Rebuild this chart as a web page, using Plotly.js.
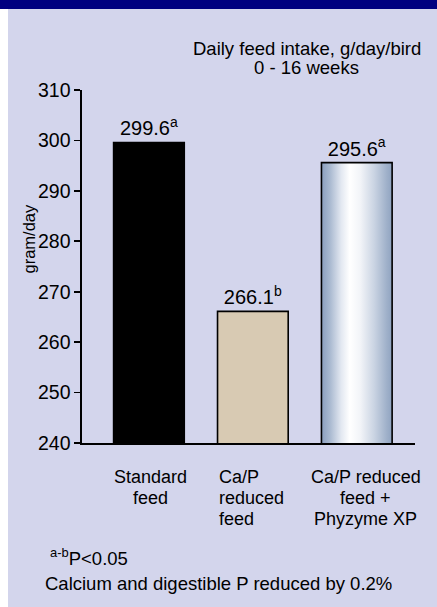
<!DOCTYPE html>
<html>
<head>
<meta charset="utf-8">
<script src="https://cdn.plot.ly/plotly-3.0.1.min.js"></script>
<style>
  html, body { margin: 0; padding: 0; background: #ffffff; }
  #page { position: relative; width: 437px; height: 607px; overflow: hidden; background: #ffffff; }
  #band { position: absolute; left: 0; top: 0; width: 437px; height: 9px; background: #000080; }
  #chart { position: absolute; left: 8px; top: 9px; width: 429px; height: 598px; }
</style>
</head>
<body>
<div id="page">
  <div id="band"></div>
  <div id="chart"></div>
</div>
<script>
// ---- data ----
const categories = ['Standard feed', 'Ca/P reduced feed', 'Ca/P reduced feed + Phyzyme XP'];
const values = [299.6, 266.1, 295.6];
const sigLetters = ['a', 'b', 'a'];
const categoryLabelLines = [
  ['Standard', 'feed'],
  ['Ca/P', 'reduced', 'feed'],
  ['Ca/P reduced', 'feed +', 'Phyzyme XP']
];
const yTickValues = [240, 250, 260, 270, 280, 290, 300, 310];
const titleLines = ['Daily feed intake, g/day/bird', '0 - 16 weeks'];
const yAxisTitle = 'gram/day';
const footnoteSignificance = ['a-b', 'P&lt;0.05'];
const footnoteReduction = 'Calcium and digestible P reduced by 0.2%';

// ---- geometry (absolute page pixels) ----
const DIV_W = 429, DIV_H = 598;
const M = { l: 74, r: 22, t: 81, b: 164 };
const PLOT_LEFT = 8 + M.l, PLOT_TOP = 9 + M.t;
const PLOT_W = DIV_W - M.l - M.r, PLOT_H = DIV_H - M.t - M.b;
const px = x => (x - PLOT_LEFT) / PLOT_W;
const py = y => (PLOT_TOP + PLOT_H - y) / PLOT_H;

const FONT = 'Arial, "Liberation Sans", Helvetica, sans-serif';
const BG = '#D3D5EC';

const barColors = ['#000000', '#D8CAB3', '#C8D2E2'];

const trace = {
  type: 'bar',
  x: categories,
  y: values,
  width: 0.68,
  marker: { color: barColors, line: { color: '#000000', width: 1.6 } },
  text: values.map((v, i) => v.toFixed(1) + '<sup>' + sigLetters[i] + '</sup>'),
  textposition: 'outside',
  textfont: { family: FONT, size: 20, color: '#000000' },
  constraintext: 'none',
  cliponaxis: false,
  hoverinfo: 'none'
};

const annotations = [];
// title lines
const titleCenters = [48.4, 67.3];
titleLines.forEach((t, j) => annotations.push({
  xref: 'paper', yref: 'paper', x: px(306.5), y: py(titleCenters[j]),
  xanchor: 'center', yanchor: 'middle', showarrow: false,
  text: t, font: { family: FONT, size: 18.5, color: '#000000' }
}));
// category labels, one annotation per line
const catLineCenters = [477, 498, 519];
const catAlign = [
  { anchor: 'center', shift: 1.5 },
  { anchor: 'left', shift: -36 },
  { anchor: 'center', shift: 9 }
];
categoryLabelLines.forEach((lines, i) => {
  lines.forEach((ln, j) => annotations.push({
    xref: 'x', yref: 'paper', x: categories[i], y: py(catLineCenters[j]),
    xanchor: catAlign[i].anchor, xshift: catAlign[i].shift, yanchor: 'middle',
    showarrow: false, text: ln,
    font: { family: FONT, size: 18, color: '#000000' }
  }));
});
// y-axis title
annotations.push({
  xref: 'paper', yref: 'paper', x: px(28.5), y: py(239),
  xanchor: 'center', yanchor: 'middle', showarrow: false, textangle: -90,
  text: yAxisTitle, font: { family: FONT, size: 16.5, color: '#000000' }
});
// footnotes
annotations.push({
  xref: 'paper', yref: 'paper', x: px(48), y: py(557),
  xanchor: 'left', yanchor: 'middle', showarrow: false,
  text: '<sup>' + footnoteSignificance[0] + '</sup>' + footnoteSignificance[1],
  font: { family: FONT, size: 18.5, color: '#000000' }
});
annotations.push({
  xref: 'paper', yref: 'paper', x: px(43), y: py(583.5),
  xanchor: 'left', yanchor: 'middle', showarrow: false,
  text: footnoteReduction,
  font: { family: FONT, size: 18.5, color: '#000000' }
});

const layout = {
  width: DIV_W, height: DIV_H,
  margin: M,
  paper_bgcolor: BG, plot_bgcolor: BG,
  showlegend: false,
  font: { family: FONT, color: '#000000' },
  xaxis: {
    type: 'category', range: [-0.644, 2.56], fixedrange: true,
    showticklabels: false, ticks: '', showgrid: false, zeroline: false,
    showline: true, linecolor: '#000000', linewidth: 1.6
  },
  yaxis: {
    range: [240, 310], tickvals: yTickValues, ticktext: yTickValues.map(String),
    ticks: 'outside', ticklen: 6, tickwidth: 1.6, tickcolor: '#000000',
    tickfont: { family: FONT, size: 19.5, color: '#000000' },
    showgrid: false, zeroline: false,
    showline: true, linecolor: '#000000', linewidth: 1.6
  },
  annotations: annotations,
  bargap: 0.3
};

Plotly.newPlot('chart', [trace], layout, { staticPlot: true, displayModeBar: false }).then(gd => {
  const ns = 'http://www.w3.org/2000/svg';
  const svg = gd.querySelector('.main-svg');
  let defs = svg.querySelector('defs');
  if (!defs) { defs = document.createElementNS(ns, 'defs'); svg.insertBefore(defs, svg.firstChild); }
  const grad = document.createElementNS(ns, 'linearGradient');
  grad.setAttribute('id', 'silverBarGrad');
  grad.setAttribute('x1', '0'); grad.setAttribute('y1', '0');
  grad.setAttribute('x2', '1'); grad.setAttribute('y2', '0');
  [[0, '#8a9ebd'], [0.12, '#a9b9d0'], [0.28, '#e3e8f1'], [0.4, '#ffffff'],
   [0.55, '#f2f4f8'], [0.75, '#c9d3e2'], [0.92, '#a0b1ca'], [1, '#8fa3c0']].forEach(([o, c]) => {
    const s = document.createElementNS(ns, 'stop');
    s.setAttribute('offset', o);
    s.setAttribute('stop-color', c);
    grad.appendChild(s);
  });
  defs.appendChild(grad);
  const paths = gd.querySelectorAll('.barlayer .point path');
  if (paths[2]) paths[2].style.fill = 'url(#silverBarGrad)';
});
</script>
</body>
</html>
